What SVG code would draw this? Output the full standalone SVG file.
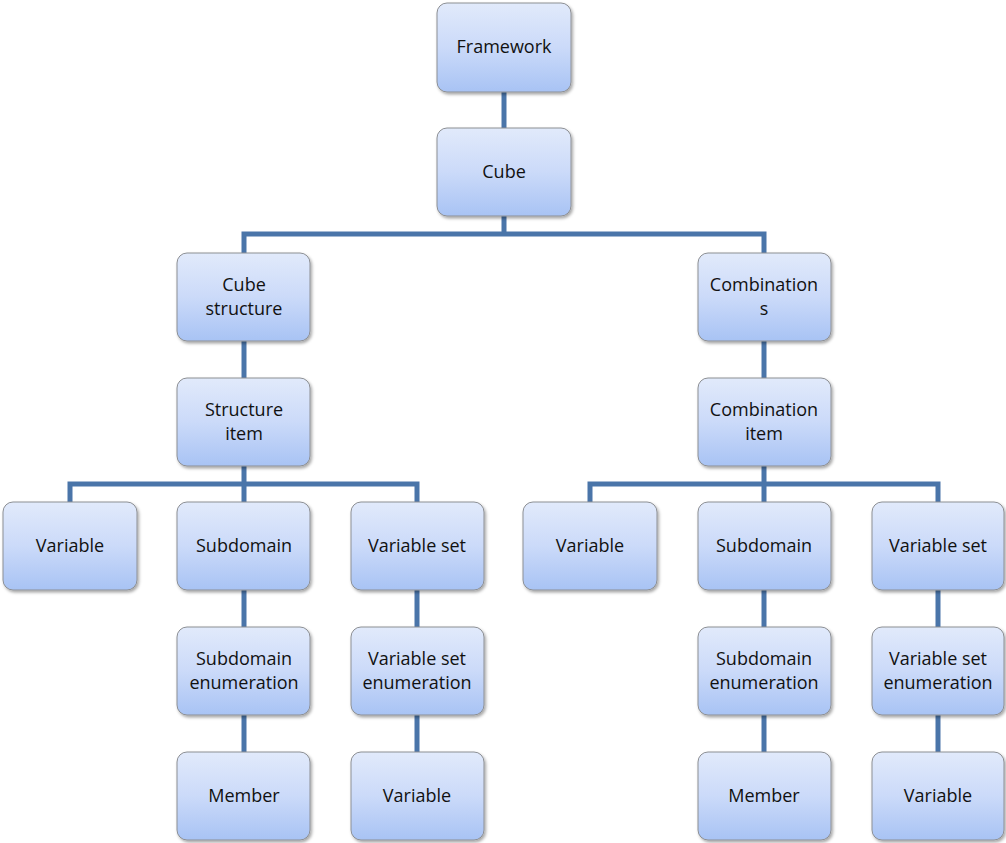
<svg xmlns="http://www.w3.org/2000/svg" width="1006" height="843" viewBox="0 0 1006 843">
  <style>
    .box { fill: url(#boxFill); stroke: #8c8f94; stroke-width: 1; filter: url(#shadow); }
    .lbl { font-family: "Open Sans", "Liberation Sans", sans-serif; font-size: 18px; fill: #111; text-anchor: middle; }
    .wire { fill: none; stroke: #4a75a9; stroke-width: 5; }
  </style>
  <defs>
    <linearGradient id="boxFill" x1="0" y1="0" x2="0" y2="1">
      <stop offset="0" stop-color="#e1eafb"/>
      <stop offset="0.5" stop-color="#cbdaf9"/>
      <stop offset="1" stop-color="#a8c3f4"/>
    </linearGradient>
    <filter id="shadow" x="-10%" y="-10%" width="125%" height="130%">
      <feDropShadow dx="1.5" dy="2" stdDeviation="1.5" flood-color="#000" flood-opacity="0.35"/>
    </filter>
  </defs>

  <!-- connectors -->
  <g id="connectors" class="wire">
    <path d="M504 92 V128"/>
    <path d="M504 216 V234 M244 253 V234 H764 V253"/>
    <path d="M244 341 V378"/>
    <path d="M764 341 V378"/>
    <path d="M244 466 V484 M70 502 V484 H417 V502 M244 484 V502"/>
    <path d="M764 466 V484 M590 502 V484 H938 V502 M764 484 V502"/>
    <path d="M244 590 V627 M244 715 V752"/>
    <path d="M417 590 V627 M417 715 V752"/>
    <path d="M764 590 V627 M764 715 V752"/>
    <path d="M938 590 V627 M938 715 V752"/>
  </g>

  <!-- top -->
  <g id="framework"><rect class="box" x="437" y="3" width="134" height="89" rx="10"/><text class="lbl" x="504" y="53">Framework</text></g>
  <g id="cube"><rect class="box" x="437" y="128" width="134" height="88" rx="10"/><text class="lbl" x="504" y="178">Cube</text></g>

  <!-- left branch -->
  <g id="cube-structure"><rect class="box" x="177" y="253" width="133" height="88" rx="10"/><text class="lbl" x="244" y="291">Cube</text><text class="lbl" x="244" y="315">structure</text></g>
  <g id="structure-item"><rect class="box" x="177" y="378" width="133" height="88" rx="10"/><text class="lbl" x="244" y="416">Structure</text><text class="lbl" x="244" y="440">item</text></g>
  <g id="l-variable"><rect class="box" x="3" y="502" width="134" height="88" rx="10"/><text class="lbl" x="70" y="552">Variable</text></g>
  <g id="l-subdomain"><rect class="box" x="177" y="502" width="133" height="88" rx="10"/><text class="lbl" x="244" y="552">Subdomain</text></g>
  <g id="l-variable-set"><rect class="box" x="351" y="502" width="133" height="88" rx="10"/><text class="lbl" x="417" y="552">Variable set</text></g>
  <g id="l-subdomain-enum"><rect class="box" x="177" y="627" width="133" height="88" rx="10"/><text class="lbl" x="244" y="665">Subdomain</text><text class="lbl" x="244" y="689">enumeration</text></g>
  <g id="l-variable-set-enum"><rect class="box" x="351" y="627" width="133" height="88" rx="10"/><text class="lbl" x="417" y="665">Variable set</text><text class="lbl" x="417" y="689">enumeration</text></g>
  <g id="l-member"><rect class="box" x="177" y="752" width="133" height="88" rx="10"/><text class="lbl" x="244" y="802">Member</text></g>
  <g id="l-set-variable"><rect class="box" x="351" y="752" width="133" height="88" rx="10"/><text class="lbl" x="417" y="802">Variable</text></g>

  <!-- right branch -->
  <g id="combinations"><rect class="box" x="698" y="253" width="133" height="88" rx="10"/><text class="lbl" x="764" y="291">Combination</text><text class="lbl" x="764" y="315">s</text></g>
  <g id="combination-item"><rect class="box" x="698" y="378" width="133" height="88" rx="10"/><text class="lbl" x="764" y="416">Combination</text><text class="lbl" x="764" y="440">item</text></g>
  <g id="r-variable"><rect class="box" x="523" y="502" width="134" height="88" rx="10"/><text class="lbl" x="590" y="552">Variable</text></g>
  <g id="r-subdomain"><rect class="box" x="698" y="502" width="133" height="88" rx="10"/><text class="lbl" x="764" y="552">Subdomain</text></g>
  <g id="r-variable-set"><rect class="box" x="872" y="502" width="132" height="88" rx="10"/><text class="lbl" x="938" y="552">Variable set</text></g>
  <g id="r-subdomain-enum"><rect class="box" x="698" y="627" width="133" height="88" rx="10"/><text class="lbl" x="764" y="665">Subdomain</text><text class="lbl" x="764" y="689">enumeration</text></g>
  <g id="r-variable-set-enum"><rect class="box" x="872" y="627" width="132" height="88" rx="10"/><text class="lbl" x="938" y="665">Variable set</text><text class="lbl" x="938" y="689">enumeration</text></g>
  <g id="r-member"><rect class="box" x="698" y="752" width="133" height="88" rx="10"/><text class="lbl" x="764" y="802">Member</text></g>
  <g id="r-set-variable"><rect class="box" x="872" y="752" width="132" height="88" rx="10"/><text class="lbl" x="938" y="802">Variable</text></g>
</svg>
